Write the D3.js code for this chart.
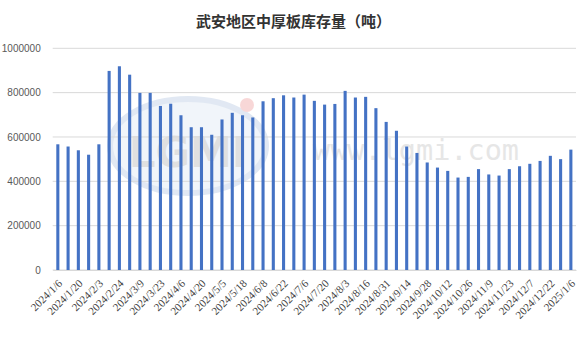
<!DOCTYPE html>
<html>
<head>
<meta charset="utf-8">
<script src="https://cdn.jsdelivr.net/npm/d3@7/dist/d3.min.js"></script>
<style>
html,body{margin:0;padding:0;background:#fff;}
svg{display:block;}
</style>
</head>
<body>
<svg id="chart" width="587" height="344"></svg>
<script>
const title = "武安地区中厚板库存量（吨）";
const categories = [
"2024/1/6","2024/1/13","2024/1/20","2024/1/27","2024/2/3","2024/2/17","2024/2/24","2024/3/2","2024/3/9","2024/3/16",
"2024/3/23","2024/3/30","2024/4/6","2024/4/13","2024/4/20","2024/4/27","2024/5/5","2024/5/11","2024/5/18","2024/6/1",
"2024/6/8","2024/6/15","2024/6/22","2024/6/29","2024/7/6","2024/7/13","2024/7/20","2024/7/27","2024/8/3","2024/8/10",
"2024/8/16","2024/8/24","2024/8/31","2024/9/7","2024/9/14","2024/9/21","2024/9/28","2024/10/5","2024/10/12","2024/10/19",
"2024/10/26","2024/11/2","2024/11/9","2024/11/16","2024/11/23","2024/11/30","2024/12/7","2024/12/14","2024/12/22","2024/12/28",
"2025/1/6"];
const values = [
567000,557000,540000,520000,567000,898000,919000,881000,799000,799000,
740000,750000,698000,644000,644000,610000,679000,709000,698000,688000,
761000,775000,788000,778000,791000,763000,746000,749000,808000,778000,
781000,730000,668000,628000,557000,528000,485000,462000,447000,417000,
420000,455000,431000,426000,455000,468000,479000,492000,515000,500000,
543000];
const yTicks = [0,200000,400000,600000,800000,1000000];

const svg = d3.select("#chart");
const margin = {left:52.7, right:11, top:48.3, bottom:74};
const W = 587, H = 344;

const x = d3.scaleBand().domain(categories).range([margin.left, W - margin.right]).paddingInner(0.7).paddingOuter(0.35);
const y = d3.scaleLinear().domain([0,1000000]).range([H - margin.bottom, margin.top]);

// watermark
const wm = svg.append("g").attr("opacity",0.55);
wm.append("ellipse").attr("cx",188).attr("cy",146).attr("rx",78).attr("ry",47)
  .attr("fill","#e6edf6").attr("stroke","#c9d7ea").attr("stroke-width",6);
wm.append("text").attr("x",188).attr("y",167).attr("text-anchor","middle")
  .attr("font-family","DejaVu Sans").attr("font-weight","bold").attr("font-size",42)
  .attr("fill","#c8c8c8").text("LGMI");
wm.append("circle").attr("cx",247).attr("cy",105).attr("r",7).attr("fill","#f4b8b8");
wm.append("text").attr("x",416).attr("y",160).attr("text-anchor","middle")
  .attr("font-family","DejaVu Sans Mono").attr("font-size",28.5)
  .attr("fill","#d2d2d2").text("www.lgmi.com");

// gridlines
svg.append("g").selectAll("line").data(yTicks).join("line")
  .attr("x1",margin.left).attr("x2",W - margin.right)
  .attr("y1",d=>y(d)).attr("y2",d=>y(d))
  .attr("stroke","#d9d9d9").attr("stroke-width",1);

// y axis labels
const yAxis = d3.axisLeft(y).tickValues(yTicks).tickSize(0).tickPadding(12).tickFormat(d3.format("d"));
const ya = svg.append("g").attr("transform",`translate(${margin.left},0)`).call(yAxis);
ya.select(".domain").remove();
ya.selectAll("text").attr("font-family","Liberation Sans, Arial").attr("font-size",10).attr("fill","#595959");

// bars
svg.append("g").selectAll("rect").data(values).join("rect")
  .attr("x",(d,i)=>x(categories[i]))
  .attr("width",x.bandwidth())
  .attr("y",d=>y(d))
  .attr("height",d=>y(0)-y(d))
  .attr("fill","#4472c4");

// x axis
const xAxis = d3.axisBottom(x).tickValues(categories.filter((d,i)=>i%2===0)).tickSize(0).tickPadding(0);
const xa = svg.append("g").attr("transform",`translate(0,${y(0)})`).call(xAxis);
xa.select(".domain").attr("stroke","#d9d9d9");
xa.selectAll("text")
  .attr("font-family","Liberation Serif, serif").attr("font-size",11).attr("fill","#404040")
  .attr("text-anchor","end").attr("dy",0).attr("dx",0)
  .attr("transform","translate(5,14) rotate(-45)");

// title
svg.append("text").attr("x",W/2).attr("y",27).attr("text-anchor","middle")
  .attr("font-family","Noto Sans CJK SC").attr("font-weight","bold").attr("font-size",15)
  .attr("fill","#333").text(title);
</script>
</body>
</html>
